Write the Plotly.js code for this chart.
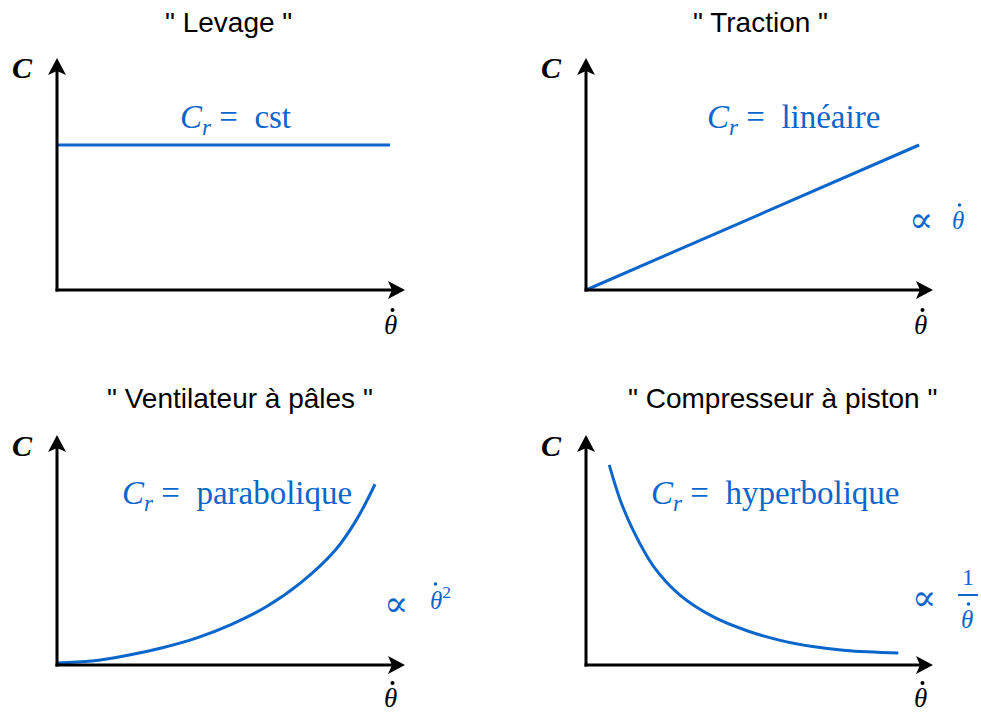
<!DOCTYPE html>
<html>
<head>
<meta charset="utf-8">
<script src="https://cdn.plot.ly/plotly-3.0.1.min.js"></script>
<style>html,body{margin:0;padding:0;background:#fff;}</style>
</head>
<body>
<div id="chart" style="width:981px;height:715px;"></div>
<script>
// ---- data (units: 0 = origin, 10 = arrow tip) ----
const levageX = [0, 9.57];
const levageY = [6.25, 6.25];

const tractionX = [0, 9.6];
const tractionY = [0, 6.25];

const ventilX = [0, 1, 2, 3, 4, 5, 6, 7, 8, 8.6, 9.14];
const ventilY = [0.09, 0.17, 0.41, 0.74, 1.17, 1.76, 2.52, 3.57, 5.0, 6.3, 7.86];

const comprX = [0.67, 0.98, 1.36, 1.94, 2.70, 3.66, 4.62, 5.57, 6.53, 7.49, 9.0];
const comprY = [8.70, 7.20, 5.85, 4.30, 3.05, 2.10, 1.50, 1.08, 0.80, 0.63, 0.52];

const titles = ['" Levage "', '" Traction "', '" Ventilateur à pâles "', '" Compresseur à piston "'];
const formulas = ['cst', 'linéaire', 'parabolique', 'hyperbolique'];

// ---- layout helpers ----
const W = 981, H = 715;
const BLUE = '#0b66cc';
const px = x => x / W;
const py = y => 1 - y / H;
const panels = [
  {ox: 57, oy: 290, tx: 405, ty: 58},
  {ox: 586, oy: 290, tx: 933, ty: 58},
  {ox: 57, oy: 665, tx: 405, ty: 435},
  {ox: 586, oy: 665, tx: 933, ty: 435}
];

const layout = {
  width: W, height: H,
  margin: {l: 0, r: 0, t: 0, b: 0},
  showlegend: false,
  paper_bgcolor: '#fff', plot_bgcolor: 'rgba(0,0,0,0)',
  shapes: [], annotations: []
};

panels.forEach((p, i) => {
  const n = i === 0 ? '' : String(i + 1);
  const sx = (p.tx - p.ox) / 10, sy = (p.oy - p.ty) / 10;
  layout['xaxis' + n] = {
    domain: [px(p.ox - sx), px(p.tx + sx)], range: [-1, 11],
    visible: false, anchor: 'y' + n, fixedrange: true
  };
  layout['yaxis' + n] = {
    domain: [py(p.oy + sy), py(p.ty - sy)], range: [-1, 11],
    visible: false, anchor: 'x' + n, fixedrange: true
  };
  const xr = 'x' + n, yr = 'y' + n;
  layout.shapes.push({type: 'line', xref: xr, yref: yr, x0: -1.5 / sx, y0: 0, x1: 10 - 8 / sx, y1: 0,
    line: {color: '#000', width: 3}});
  layout.shapes.push({type: 'line', xref: xr, yref: yr, x0: 0, y0: -1.5 / sy, x1: 0, y1: 10 - 8 / sy,
    line: {color: '#000', width: 3}});
  layout.shapes.push({type: 'path', xref: xr, yref: yr, xsizemode: 'pixel', ysizemode: 'pixel',
    xanchor: 10, yanchor: 0, path: 'M0,0 L-17,9 L-13,0 L-17,-9 Z',
    fillcolor: '#000', line: {width: 0}});
  layout.shapes.push({type: 'path', xref: xr, yref: yr, xsizemode: 'pixel', ysizemode: 'pixel',
    xanchor: 0, yanchor: 10, path: 'M0,0 L-9,-17 L0,-13 L9,-17 Z',
    fillcolor: '#000', line: {width: 0}});
});

function ann(text, x, y, size, color, family, extra) {
  layout.annotations.push(Object.assign({
    text: text, x: px(x), y: py(y), xref: 'paper', yref: 'paper',
    showarrow: false, xanchor: 'center', yanchor: 'middle',
    font: {size: size, color: color, family: family}
  }, extra || {}));
}
function dot(x, y, r, color) {
  layout.shapes.push({type: 'circle', xref: 'paper', yref: 'paper',
    x0: px(x - r), x1: px(x + r), y0: py(y + r), y1: py(y - r),
    fillcolor: color, line: {width: 0}});
}

const SANS = 'Liberation Sans, Arial, sans-serif';
const SERIF = 'Liberation Serif, Times New Roman, serif';
const titlePos = [[228, 22], [760, 22], [240, 398], [782, 398]];
const cPos = [[22, 68], [551, 68], [22, 445], [551, 445]];
const thPos = [[390, 325], [920, 325], [390, 698], [920, 698]];
const fPos = [[235, 119], [793, 119], [237, 496], [775, 496]];

titles.forEach((t, i) => ann(t, titlePos[i][0], titlePos[i][1], 28, '#000', SANS));
cPos.forEach(c => ann('<b><i>C</i></b>', c[0], c[1], 30, '#000', SERIF));
thPos.forEach(c => { ann('<i>θ</i>', c[0], c[1], 27, '#000', SERIF); dot(c[0] + 2.5, c[1] - 15, 2, '#000'); });
formulas.forEach((f, i) => ann('<i>C</i><sub><i>r</i></sub>\u00a0=\u00a0\u00a0' + f, fPos[i][0], fPos[i][1], 33, BLUE, SERIF));

// proportionality labels
const PROP = 'DejaVu Serif, serif';
ann('∝', 921, 219, 36, BLUE, PROP);
ann('<i>θ</i>', 958, 220, 25, BLUE, SERIF); dot(959.5, 205, 1.8, BLUE);
ann('∝', 396, 603, 36, BLUE, PROP);
ann('<i>θ</i><sup>2</sup>', 440, 598, 25, BLUE, SERIF); dot(435.5, 584, 1.8, BLUE);
ann('∝', 924, 597, 36, BLUE, PROP);
ann('1', 968, 577, 24, BLUE, SERIF);
ann('<i>θ</i>', 967, 619, 25, BLUE, SERIF); dot(968.5, 604, 1.8, BLUE);
layout.shapes.push({type: 'line', xref: 'paper', yref: 'paper', x0: px(958), x1: px(978), y0: py(595), y1: py(595),
  line: {color: BLUE, width: 2}});

const lineStyle = {color: BLUE, width: 3};
const data = [
  {x: levageX, y: levageY, xaxis: 'x', yaxis: 'y', mode: 'lines', line: lineStyle, hoverinfo: 'skip'},
  {x: tractionX, y: tractionY, xaxis: 'x2', yaxis: 'y2', mode: 'lines', line: lineStyle, hoverinfo: 'skip'},
  {x: ventilX, y: ventilY, xaxis: 'x3', yaxis: 'y3', mode: 'lines', line: Object.assign({shape: 'spline'}, lineStyle), hoverinfo: 'skip'},
  {x: comprX, y: comprY, xaxis: 'x4', yaxis: 'y4', mode: 'lines', line: Object.assign({shape: 'spline'}, lineStyle), hoverinfo: 'skip'}
];

Plotly.newPlot('chart', data, layout, {displayModeBar: false, staticPlot: true});
</script>
</body>
</html>
